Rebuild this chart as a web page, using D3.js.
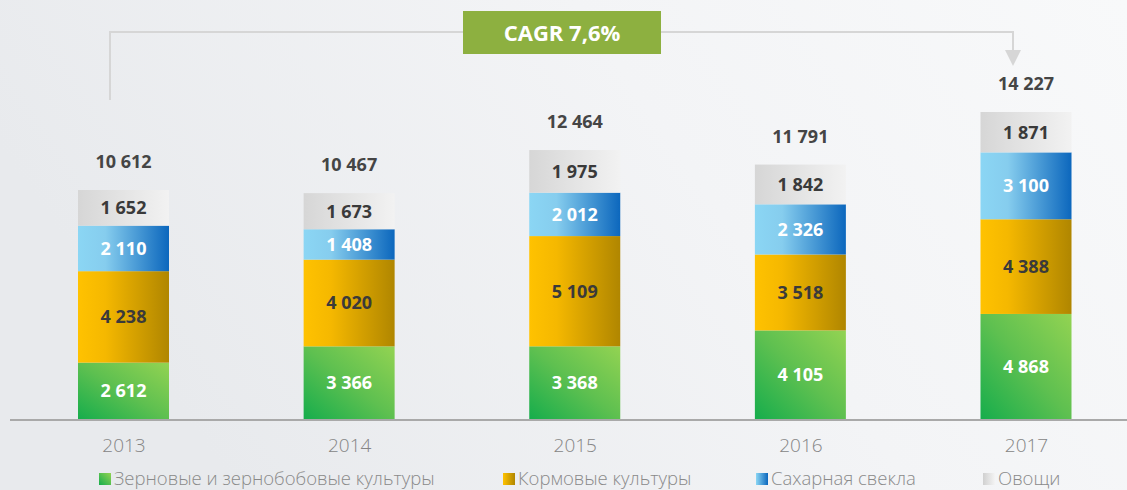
<!DOCTYPE html>
<html>
<head>
<meta charset="utf-8">
<script src="https://cdn.jsdelivr.net/npm/d3@7"></script>
<style>
  html, body { margin: 0; padding: 0; overflow: hidden; }
  svg { display: block; }
</style>
</head>
<body>
<svg id="chart" width="1127" height="490"></svg>
<script>
// ---- data ----
const years = ["2013", "2014", "2015", "2016", "2017"];
const grain = [2612, 3366, 3368, 4105, 4868];
const fodder = [4238, 4020, 5109, 3518, 4388];
const sugarBeet = [2110, 1408, 2012, 2326, 3100];
const vegetables = [1652, 1673, 1975, 1842, 1871];
const totals = [10612, 10467, 12464, 11791, 14227];
const seriesNames = ["Зерновые и зернобобовые культуры", "Кормовые культуры", "Сахарная свекла", "Овощи"];
const cagrLabel = "CAGR 7,6%";

const W = 1127, H = 490;
const svg = d3.select("#chart");
const defs = svg.append("defs");

// background
const bg = defs.append("linearGradient").attr("id", "bg").attr("x1", "0").attr("y1", "0.3").attr("x2", "1").attr("y2", "0");
bg.append("stop").attr("offset", "0").attr("stop-color", "#e8eaed");
bg.append("stop").attr("offset", "0.55").attr("stop-color", "#f3f4f6");
bg.append("stop").attr("offset", "1").attr("stop-color", "#f8f9fa");
svg.append("rect").attr("width", W).attr("height", H).attr("fill", "url(#bg)");

// gradients
function grad(id, stops, x1, y1, x2, y2) {
  const g = defs.append("linearGradient").attr("id", id)
    .attr("x1", x1).attr("y1", y1).attr("x2", x2).attr("y2", y2);
  stops.forEach(s => g.append("stop").attr("offset", s[0]).attr("stop-color", s[1]));
}
grad("g0", [[0, "#16ad4c"], [0.5, "#5ec050"], [1, "#93d352"]], "0", "1", "1", "0");
grad("g1", [[0, "#ffc200"], [0.3, "#f5b800"], [1, "#b08600"]], "0", "0", "1", "0");
grad("g2", [[0, "#8bd6f4"], [0.3, "#86cdee"], [1, "#0c67bd"]], "0", "0", "1", "0");
grad("g3", [[0, "#d6d6d6"], [1, "#f2f2f2"]], "0", "0", "1", "0");
const fills = ["url(#g0)", "url(#g1)", "url(#g2)", "url(#g3)"];
const labelColors = ["#ffffff", "#3a3a3a", "#ffffff", "#3a3a3a"];

const baseY = 419;
const y = d3.scaleLinear().domain([0, 14227]).range([baseY, 112]);
const x = d3.scalePoint().domain(years).range([123.5, 1026]);
const barW = 91;

const table = years.map((yr, i) => ({ year: yr, s0: grain[i], s1: fodder[i], s2: sugarBeet[i], s3: vegetables[i], total: totals[i] }));
const stack = d3.stack().keys(["s0", "s1", "s2", "s3"])(table);

const fmt = v => d3.format(",")(v).replace(/,/g, " ");

const numFont = "'Open Sans', 'DejaVu Sans', sans-serif";
const lightFont = "'Open Sans', 'Lato', sans-serif";

// bracket
const bracket = svg.append("g").attr("stroke", "#d6d6d6").attr("stroke-width", 2).attr("fill", "none");
const xl = 110, xr = x("2017") - 13, yb = 32;
bracket.append("path").attr("d", `M${xl},100 V${yb} H463`);
bracket.append("path").attr("d", `M661,${yb} H${xr} V52`);
svg.append("path").attr("d", `M${xr - 8},50 L${xr + 8},50 L${xr},66 Z`).attr("fill", "#d6d6d6");

// CAGR box
svg.append("rect").attr("x", 463).attr("y", 11).attr("width", 198).attr("height", 43).attr("fill", "#8db040");
svg.append("text").attr("x", 562).attr("y", 41).attr("text-anchor", "middle")
  .attr("font-family", numFont).attr("font-weight", 700).attr("font-size", 22).attr("fill", "#ffffff")
  .text(cagrLabel);

// bars
stack.forEach((layer, si) => {
  const g = svg.append("g");
  g.selectAll("rect").data(layer).enter().append("rect")
    .attr("x", d => x(d.data.year) - barW / 2)
    .attr("y", d => y(d[1]))
    .attr("width", barW)
    .attr("height", d => y(d[0]) - y(d[1]))
    .attr("fill", fills[si]);
  g.selectAll("text").data(layer).enter().append("text")
    .attr("x", d => x(d.data.year))
    .attr("y", d => (y(d[0]) + y(d[1])) / 2 + 6.5)
    .attr("text-anchor", "middle")
    .attr("font-family", numFont).attr("font-weight", 700).attr("font-size", 18)
    .attr("fill", labelColors[si])
    .text(d => fmt(d[1] - d[0]));
});

// totals
svg.append("g").selectAll("text").data(table).enter().append("text")
  .attr("x", d => x(d.year))
  .attr("y", d => y(d.total) - 22)
  .attr("text-anchor", "middle")
  .attr("font-family", numFont).attr("font-weight", 700).attr("font-size", 18)
  .attr("fill", "#454545")
  .text(d => fmt(d.total));

// axis line
svg.append("line").attr("x1", 10).attr("x2", W).attr("y1", baseY + 1).attr("y2", baseY + 1)
  .attr("stroke", "#a9a9a9").attr("stroke-width", 2);

// year labels via axis
const axis = d3.axisBottom(x).tickSize(0).tickPadding(0);
const ag = svg.append("g").attr("transform", `translate(0,${baseY})`).call(axis);
ag.select(".domain").remove();
ag.selectAll("text")
  .attr("y", 33).attr("dy", 0)
  .attr("font-family", lightFont).attr("font-weight", 300).attr("font-size", 19)
  .attr("fill", "#858585");

// legend
const legX = [99, 503, 756, 983];
const leg = svg.append("g");
seriesNames.forEach((name, i) => {
  const lg = defs.append("linearGradient").attr("id", "lg" + i)
    .attr("x1", "0").attr("y1", i === 0 ? "1" : "0").attr("x2", "1").attr("y2", "0");
  const cols = [["#16ad4c", "#93d352"], ["#ffc200", "#b08600"], ["#8bd6f4", "#0c67bd"], ["#d0d0d0", "#f4f4f4"]][i];
  lg.append("stop").attr("offset", 0).attr("stop-color", cols[0]);
  lg.append("stop").attr("offset", 1).attr("stop-color", cols[1]);
  leg.append("rect").attr("x", legX[i]).attr("y", 473).attr("width", 12).attr("height", 12).attr("fill", `url(#lg${i})`);
  leg.append("text").attr("x", legX[i] + 15).attr("y", 485)
    .attr("font-family", lightFont).attr("font-weight", 300).attr("font-size", 18.5)
    .attr("fill", "#8a8a8a").text(name);
});
</script>
</body>
</html>
